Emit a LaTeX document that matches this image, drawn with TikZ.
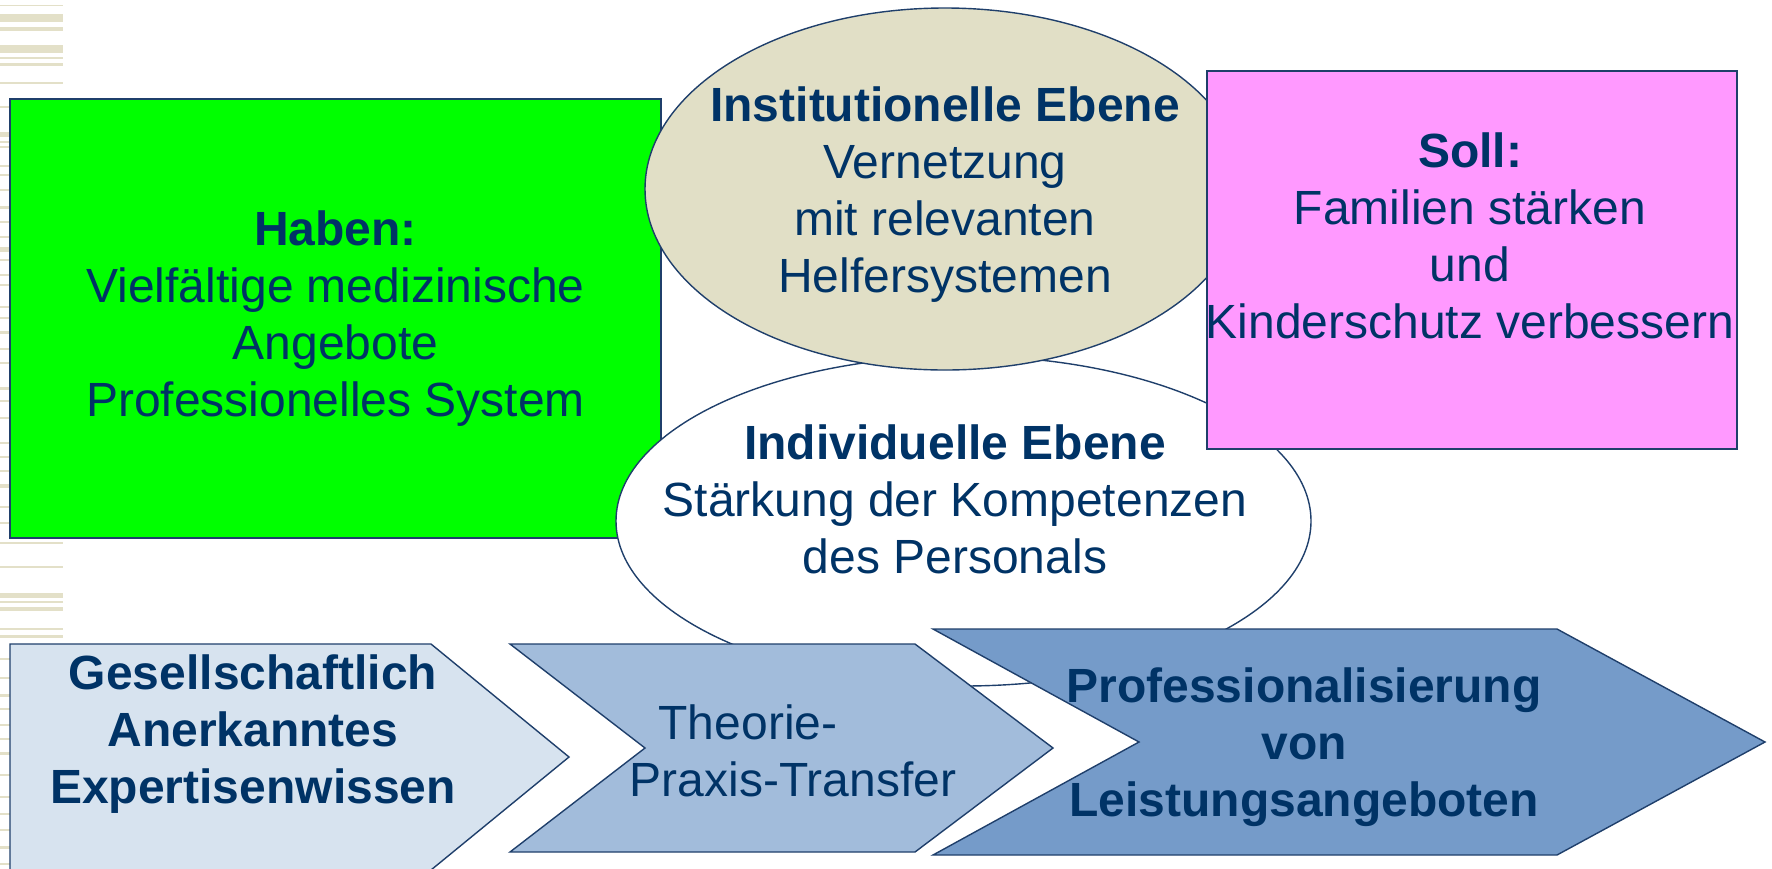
\documentclass[tikz,border=0pt]{standalone}
\usepackage{fontspec}
\setmainfont{Liberation Sans}
\usetikzlibrary{shapes.geometric}

\definecolor{navy}{HTML}{003366}
\definecolor{rim}{HTML}{1F3F6B}
\definecolor{habgreen}{HTML}{00FF00}
\definecolor{sollpink}{HTML}{FF99FF}
\definecolor{sand}{HTML}{E1DFC6}
\definecolor{stripe}{HTML}{E3E0C8}
\definecolor{arrA}{HTML}{D7E3EF}
\definecolor{arrB}{HTML}{A2BCDB}
\definecolor{arrC}{HTML}{759BC9}

\begin{document}
\begin{tikzpicture}[x=1pt, y=-1pt,
		box/.style={draw=rim, line width=1.4pt, rectangle, inner sep=0pt,
				align=center, text=navy, font=\fontsize{48}{57}\selectfont},
		oval/.style={draw=rim, line width=1.4pt, ellipse, inner sep=0pt},
		chev/.style={draw=rim, line width=1.4pt, line join=miter},
		txt/.style={text=navy, align=center, inner sep=0pt,
				font=\fontsize{48}{57}\selectfont},
		txtb/.style={txt, font=\fontsize{48}{57}\selectfont\bfseries},
	]
	\useasboundingbox (0,0) rectangle (1772,868);
	\clip (0,0) rectangle (1772,868);

	% background stripes on the left margin
	\foreach \sy/\sw in {5.5/1.5, 18/8, 29/4, 49/8, 58/1.5, 64.5/2.5, 83/2.5,
			107/2, 134/5, 142/2, 147/2, 166/2, 175/2, 190/2, 207/3, 222/2, 237/2,
			249/5, 260/2, 275/2, 285/2, 307/2, 318/2, 332/3, 349/2, 363/2, 388/3,
			401/2, 418/2, 443/2, 457/2, 471/2, 486/4, 507/2, 523/2,
			543/2, 567/2, 595/5, 602/1.5, 609/4, 629/1.5, 636/3,
			659/2, 678/2, 695/3, 709/2, 725/2, 739/2, 753/3, 775/2, 797/2,
			814/2, 830/2, 847/3, 864/2}
		\draw[stripe, line width=\sw pt] (0,\sy) -- (63,\sy);

	\node[box, fill=habgreen, minimum width=651pt, minimum height=439pt] (haben) at (335.5,318.5)
	{\textbf{Haben:}\\Vielfältige medizinische\\Angebote\\Professionelles System};

	\node[oval, fill=white, minimum width=695pt, minimum height=330pt] (indiv) at (963.5,521) {};
	\node[txt] (indivTxt) at (955,499)
	{\textbf{Individuelle Ebene}\\Stärkung der Kompetenzen\\des Personals};

	\node[oval, fill=sand, minimum width=600pt, minimum height=362pt] (inst) at (945,189) {};
	\node[txt] (instTxt) at (945,195)
	{\textbf{Institutionelle Ebene}\\Vernetzung\\mit relevanten\\Helfersystemen};

	\node[box, fill=sollpink, minimum width=530pt, minimum height=378pt] (soll) at (1472,260) {};
	\node[txt] (sollTxt) at (1470,236)
	{\textbf{Soll:}\\Familien stärken\\und\\Kinderschutz verbessern};

	\draw[chev, fill=arrA] (10,644) -- (431,644) -- (569,757) -- (431,870) -- (10,870) -- cycle;
	\draw[chev, fill=arrB] (510,644) -- (915,644) -- (1053,748) -- (915,852) -- (510,852) -- (645,748) -- cycle;
	\draw[chev, fill=arrC] (933,629) -- (1557,629) -- (1765,742) -- (1557,855) -- (933,855) -- (1139,742) -- cycle;

	\node[txtb] (gesTxt) at (253,734) {Gesellschaftlich\\Anerkanntes\\Expertisenwissen};
	\node[txt] (theoTxt) at (793,751) {Theorie-\hspace*{90pt}\\Praxis-Transfer};
	\node[txtb] (profTxt) at (1304,747) {Professionalisierung\\von\hspace*{30pt}\\Leistungsangeboten};
\end{tikzpicture}
\end{document}
